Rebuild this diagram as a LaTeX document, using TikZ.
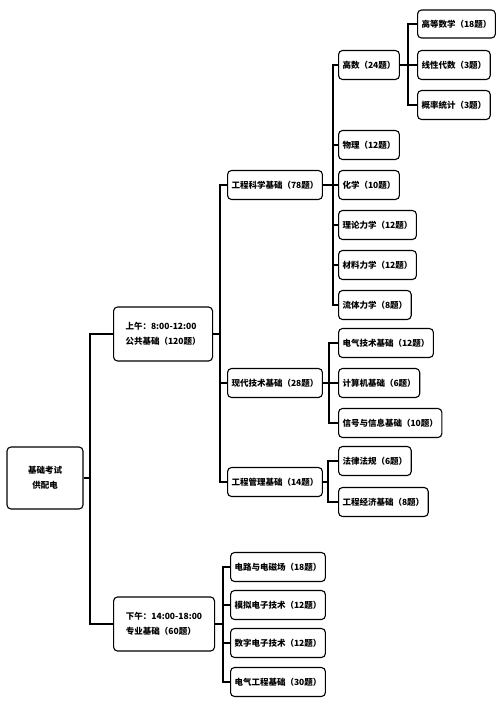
\documentclass[tikz,border=0pt]{standalone}
\usepackage{fontspec}
\setmainfont{Noto Sans CJK SC}
\begin{document}
\begin{tikzpicture}[x=1pt,y=-1pt,
  box/.style={draw,line width=1.1pt,rounded corners=4pt,fill=white,anchor=west,
    minimum height=29pt,inner xsep=4pt,font=\bfseries\fontsize{8.5}{15}\selectfont},
  link/.style={line width=1.1pt}]
\useasboundingbox (0,0) rectangle (499,706);
\node[box,anchor=center,minimum width=76pt,minimum height=62pt,align=center] (root) at (45,478) {基础考试\\供配电};
\node[box,minimum width=99pt,minimum height=54pt,align=left] (am) at (113,334) {上午：8:00-12:00\\公共基础（120题）};
\node[box,minimum width=101pt,minimum height=54pt,align=left] (pm) at (113,624) {下午：14:00-18:00\\专业基础（60题）};
\node[box] (gk) at (227,185) {工程科学基础（78题）};
\node[box] (xd) at (227,383) {现代技术基础（28题）};
\node[box] (gl) at (227,482) {工程管理基础（14题）};
\node[box] (gs) at (338,65) {高数（24题）};
\node[box] (wl) at (338,145) {物理（12题）};
\node[box] (hx) at (338,185) {化学（10题）};
\node[box] (ll) at (338,225) {理论力学（12题）};
\node[box] (cl) at (338,265) {材料力学（12题）};
\node[box] (lt) at (338,305) {流体力学（8题）};
\node[box,minimum height=28pt] (gd) at (417,24) {高等数学（18题）};
\node[box] (xx) at (417,65) {线性代数（3题）};
\node[box] (gt) at (417,105) {概率统计（3题）};
\node[box] (dq) at (338,343) {电气技术基础（12题）};
\node[box] (js) at (338,383) {计算机基础（6题）};
\node[box] (xh) at (338,423) {信号与信息基础（10题）};
\node[box] (fl) at (338,461) {法律法规（6题）};
\node[box] (jj) at (338,502) {工程经济基础（8题）};
\node[box] (dl) at (230,567) {电路与电磁场（18题）};
\node[box] (mn) at (230,605) {模拟电子技术（12题）};
\node[box] (sz) at (230,643) {数字电子技术（12题）};
\node[box] (dg) at (230,682) {电气工程基础（30题）};
\foreach \c in {am,pm}
  \draw[link] (root.east) -- ([xshift=-23pt]\c.west |- root.east) |- (\c.west);
\foreach \c in {gk,xd,gl}
  \draw[link] (am.east) -- ([xshift=-7pt]\c.west |- am.east) |- (\c.west);
\foreach \c in {gs,wl,hx,ll,cl,lt}
  \draw[link] (gk.east) -- ([xshift=-5pt]\c.west |- gk.east) |- (\c.west);
\foreach \c in {gd,xx,gt}
  \draw[link] (gs.east) -- ([xshift=-9pt]\c.west |- gs.east) |- (\c.west);
\foreach \c in {dq,js,xh}
  \draw[link] (xd.east) -- ([xshift=-9pt]\c.west |- xd.east) |- (\c.west);
\foreach \c in {fl,jj}
  \draw[link] (gl.east) -- ([xshift=-10pt]\c.west |- gl.east) |- (\c.west);
\foreach \c in {dl,mn,sz,dg}
  \draw[link] (pm.east) -- ([xshift=-7pt]\c.west |- pm.east) |- (\c.west);
\end{tikzpicture}
\end{document}
